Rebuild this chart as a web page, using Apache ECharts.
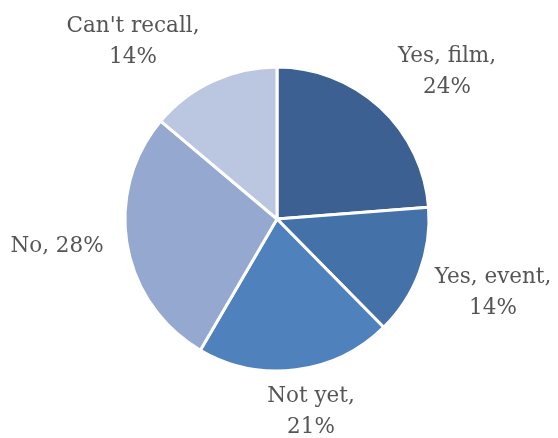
<!DOCTYPE html>
<html>
<head>
<meta charset="utf-8">
<style>
  html, body { margin: 0; padding: 0; background: #ffffff; }
  #chart { width: 558px; height: 438px; }
</style>
<script src="https://cdn.jsdelivr.net/npm/echarts@6/dist/echarts.min.js"></script>
</head>
<body>
<div id="chart"></div>
<script>
// Answer categories, clockwise from 12 o'clock
const categories = ['Yes, film', 'Yes, event', 'Not yet', 'No', "Can't recall"];
// Share of respondents, percent
const shares = [24, 14, 21, 28, 14];
// Slice fills
const sliceColors = ['#3c6091', '#4472a8', '#4f81bd', '#95a9d0', '#bbc7e0'];

// Where each label block is centred, and whether it wraps after the name
const labelSpots = [
  [447, 72], [493, 293], [311, 412], [57, 246], [133, 42]
];
const labelWraps = [true, true, true, false, true];

const chart = echarts.init(document.getElementById('chart'), null, { renderer: 'canvas' });

chart.setOption({
  animation: false,
  backgroundColor: '#ffffff',
  series: [{
    type: 'pie',
    center: [277, 219],
    radius: [0, 152],
    startAngle: 90,
    clockwise: true,
    avoidLabelOverlap: false,
    itemStyle: { borderColor: '#ffffff', borderWidth: 3 },
    label: {
      show: true,
      position: 'outside',
      formatter: p => p.name + (labelWraps[p.dataIndex] ? ',\n' : ', ') + p.value + '%',
      fontFamily: 'DejaVu Serif',
      fontSize: 21.5,
      lineHeight: 31,
      color: '#555555',
      align: 'center'
    },
    labelLine: { show: false },
    labelLayout: p => ({
      x: labelSpots[p.dataIndex][0],
      y: labelSpots[p.dataIndex][1],
      align: 'center',
      verticalAlign: 'middle'
    }),
    emphasis: { disabled: true },
    data: categories.map((name, i) => ({
      name: name,
      value: shares[i],
      itemStyle: { color: sliceColors[i] }
    }))
  }]
});
</script>
</body>
</html>
